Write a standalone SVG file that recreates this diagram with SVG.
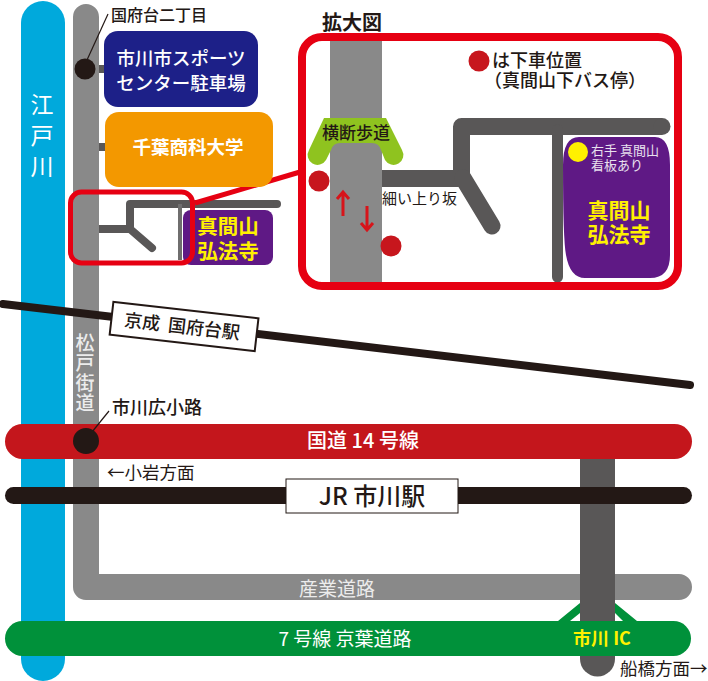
<svg xmlns="http://www.w3.org/2000/svg" width="708" height="681" viewBox="0 0 708 681">
<style>
text{font-family:"Noto Sans CJK JP","Noto Sans",sans-serif;fill:#231815}
.w{fill:#fff}.y{fill:#fff100}.b{font-weight:700}.m{font-weight:500}.c{text-anchor:middle}
.pale{fill:#e8e0ee}.lg{fill:#ececec}
.v{writing-mode:vertical-rl}
.road{fill:none;stroke:#595757;stroke-linecap:round;stroke-linejoin:round}
.stop{fill:#c7161d}
.red{fill:none;stroke:#e60012}
.ar{fill:none;stroke:#d7141a;stroke-width:3}
</style>
<rect width="708" height="681" fill="#fff"/>
<g id="connectors">
<rect x="21" y="1" width="44" height="680" rx="22" fill="#00a9dc"/>
<path d="M86 17V587H679" fill="none" stroke="#898989" stroke-width="26" stroke-linecap="round" stroke-linejoin="round"/>
<rect x="99" y="65" width="7" height="8" fill="#595757"/>
<rect x="99" y="143" width="7" height="8" fill="#595757"/>
<path d="M99 229H130V204H277" class="road" stroke-width="8" style="stroke-linecap:butt"/>
<path d="M277 204h0" class="road" stroke-width="8"/>
<path d="M130 229L152 248" class="road" stroke-width="8"/>
<path d="M180 204V260" fill="none" stroke="#6f6e6e" stroke-width="4"/>
<path d="M3 304L690 385" fill="none" stroke="#231815" stroke-width="8" stroke-linecap="round"/>
<path d="M558 621L580 603H615L637 621H623L615 613H580L570 621Z" fill="#00913a"/>
<path d="M597.500 450V659" fill="none" stroke="#595757" stroke-width="35" stroke-linecap="round"/>
<rect x="5" y="424" width="687" height="35" rx="17.500" fill="#c4161c"/>
<rect x="5" y="487" width="687" height="17" rx="8.500" fill="#231815"/>
<rect x="5" y="621" width="686" height="35" rx="17.500" fill="#00913a"/>
<path d="M87 60L108 14" fill="none" stroke="#231815" stroke-width="1.200"/>
<path d="M92 432L109 411" fill="none" stroke="#231815" stroke-width="1.200"/>
<path d="M195 203L300 172" class="red" stroke-width="5"/>
</g>
<g id="river-label"><text class="w v" font-size="23" x="42" y="93" letter-spacing="8">江戸川</text></g>
<g id="kokufudai-2"><circle cx="85" cy="69" r="10.500" fill="#231815"/><text x="111" y="20.500" font-size="16" class="m">国府台二丁目</text></g>
<g id="sports-center"><rect x="104" y="31" width="154" height="76" rx="14" fill="#1d2088"/><text class="w c m" font-size="18.500"><tspan x="181" y="65">市川市スポーツ</tspan><tspan x="181" y="90">センター駐車場</tspan></text></g>
<g id="university"><rect x="105" y="112" width="168" height="75" rx="14" fill="#f39800"/><text class="w c b" x="188" y="154" font-size="18.500">千葉商科大学</text></g>
<g id="temple-small"><rect x="183" y="210" width="90" height="55" rx="8" fill="#5f1985"/><text class="y c b" font-size="20.500"><tspan x="228" y="234">真間山</tspan><tspan x="228" y="259">弘法寺</tspan></text></g>
<g id="inset-frame"><rect x="70.500" y="192" width="122" height="71" rx="11" class="red" stroke-width="5"/></g>
<g id="detail-map">
<text x="322" y="30" font-size="20" class="b">拡大図</text>
<rect x="330" y="41" width="52" height="241" fill="#898989"/>
<path d="M324 118H386L402 150A9 9 0 0 1 385 160L381 150Q379 143 372 143H340Q333 143 331 150L326 160A9 9 0 0 1 309 150Z" fill="#8fc31f"/>
<text x="322" y="139" font-size="17" class="m">横断歩道</text>
<path d="M382 178.500H461.500V126.500H662" class="road" stroke-width="17" style="stroke-linecap:butt"/>
<path d="M662 126.500h0" class="road" stroke-width="17"/>
<path d="M463 178L492 226" class="road" stroke-width="17"/>
<path d="M557.500 130V277" class="road" stroke-width="11"/>
<path d="M579 137H655Q670 137 670 165V255Q670 278 650 278H585Q570 278 566 255Q563 240 563 165Q563 137 579 137Z" fill="#5f1985"/>
<circle cx="578" cy="152" r="10" fill="#fff100"/>
<text class="pale" font-size="13"><tspan x="591" y="155">右手 真間山</tspan><tspan x="591" y="170">看板あり</tspan></text>
<text class="y c b" font-size="21"><tspan x="619" y="218">真間山</tspan><tspan x="619" y="242">弘法寺</tspan></text>
<circle cx="319" cy="181" r="10.500" class="stop"/>
<circle cx="391" cy="246" r="10.500" class="stop"/>
<circle cx="479" cy="61" r="10.500" class="stop"/>
<path d="M343 216V192M337 199L343 192L349 199" class="ar"/>
<path d="M367 206V230M361 223L367 230L373 223" class="ar"/>
<text font-size="18" class="m"><tspan x="492" y="67">は下車位置</tspan><tspan x="484" y="87">（真間山下バス停）</tspan></text>
<text x="382" y="204" font-size="15">細い上り坂</text>
<rect x="302" y="37" width="376" height="249" rx="20" class="red" stroke-width="8"/>
</g>
<g id="keisei-station"><g transform="rotate(6.500 184 327)"><rect x="111" y="310" width="146" height="33" fill="#fff" stroke="#231815" stroke-width="2"/><text x="124" y="333" font-size="18" class="m" xml:space="preserve">京成  国府台駅</text></g></g>
<g id="matsudo-label"><text class="lg v m" font-size="19" x="85" y="333" letter-spacing="1">松戸街道</text></g>
<g id="hirokoji"><circle cx="86" cy="441" r="13" fill="#231815"/><text x="112" y="413.500" font-size="18" class="m">市川広小路</text></g>
<g id="route14"><text class="w c m" x="363" y="448" font-size="20">国道 14 号線</text></g>
<g id="koiwa"><text x="107" y="478.500" font-size="17.500">←小岩方面</text></g>
<g id="jr-station"><rect x="286" y="479" width="172" height="34" fill="#fff" stroke="#231815" stroke-width="1"/><text class="c m" x="372" y="505" font-size="24">JR 市川駅</text></g>
<g id="sangyo"><text class="lg c" x="337" y="596" font-size="19">産業道路</text></g>
<g id="keiyo"><text class="w c" x="345" y="646" font-size="19">7 号線  京葉道路</text></g>
<g id="ichikawa-ic"><text class="y c b" x="602" y="645" font-size="18">市川 IC</text></g>
<g id="funabashi"><text x="620" y="674.500" font-size="17.500">船橋方面→</text></g>
</svg>
